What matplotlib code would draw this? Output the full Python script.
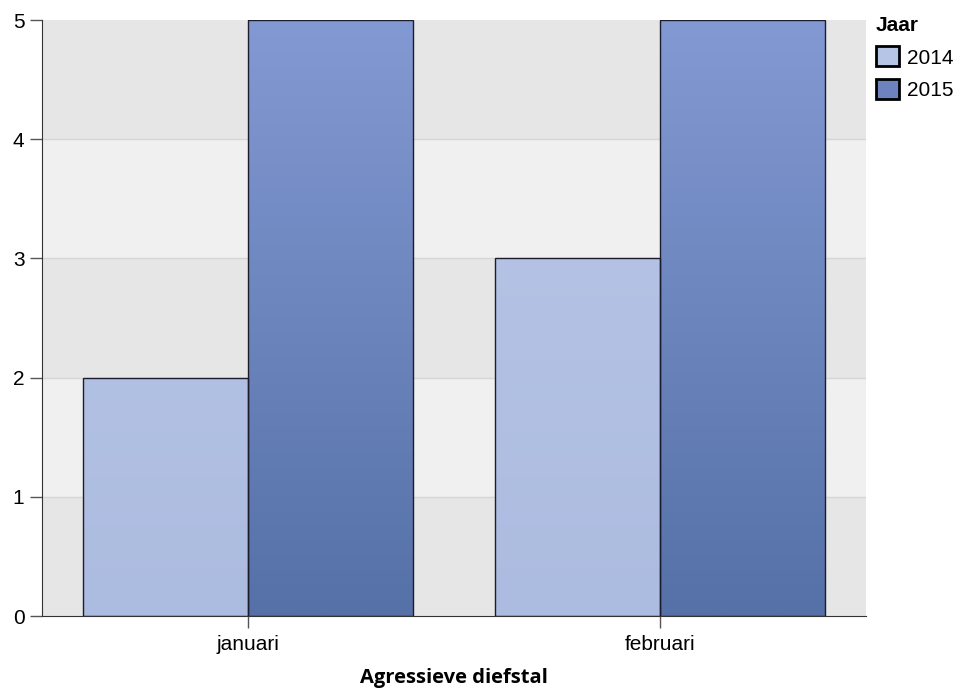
import numpy as np
import matplotlib.pyplot as plt
from matplotlib.patches import Patch
from matplotlib.colors import LinearSegmentedColormap

maanden = ['januari', 'februari']
jaren = ['2014', '2015']
waarden = {'2014': [2, 3], '2015': [5, 5]}
kleur_top = {'2014': '#b9c7e7', '2015': '#8399d3'}
kleur_bodem = {'2014': '#acbce0', '2015': '#5571a7'}
legenda_kleur = {'2014': '#b6c4e5', '2015': '#6c83bf'}

plt.rcParams['font.family'] = ['Liberation Sans', 'DejaVu Sans']

fig = plt.figure(figsize=(9.64, 6.88), dpi=100)
ax = fig.add_axes([42 / 964, 1 - 616 / 688, 824 / 964, 596 / 688])

# achtergrondbanden
for i in range(5):
    ax.axhspan(i, i + 1, color='#e6e6e6' if i % 2 == 0 else '#f0f0f0', zorder=0, lw=0)
for i in range(1, 5):
    ax.axhline(i, color='#d6d6d6', lw=1, zorder=0.5)

x = np.arange(len(maanden))
w = 0.4
ymax = 5
for j, jaar in enumerate(jaren):
    pos = x + (j - 0.5) * w
    bars = ax.bar(pos, waarden[jaar], width=w, align='center', facecolor='none',
                  edgecolor='#1c1c2c', lw=1, zorder=3)
    cmap = LinearSegmentedColormap.from_list(jaar, [kleur_bodem[jaar], kleur_top[jaar]])
    grad = np.linspace(0, 1, 256).reshape(-1, 1)
    for b in bars:
        im = ax.imshow(grad, cmap=cmap, origin='lower', aspect='auto',
                       extent=[b.get_x(), b.get_x() + b.get_width(), 0, ymax],
                       zorder=2, vmin=0, vmax=1)
        im.set_clip_path(b)

ax.set_xlim(-0.5, 1.5)
ax.set_ylim(0, ymax)
ax.set_xticks(x)
ax.set_xticklabels(maanden, fontsize=15)
ax.set_yticks(range(0, 6))
ax.tick_params(axis='y', length=8.6, width=1, color='#555555', labelsize=15, pad=4)
ax.tick_params(axis='x', length=8.6, width=1, color='#555555', labelsize=15, pad=5)
for s in ['top', 'right']:
    ax.spines[s].set_visible(False)
ax.spines['left'].set_color('#333333')
ax.spines['bottom'].set_color('#333333')
ax.set_xlabel('Agressieve diefstal', fontsize=14.5, fontweight='bold',
              family=['Open Sans', 'DejaVu Sans'], labelpad=10)

handles = [Patch(facecolor=legenda_kleur[j], edgecolor='black', lw=2, label=j) for j in jaren]
leg = fig.legend(handles=handles, title='Jaar', loc='upper left', bbox_to_anchor=(876 / 964, 1 - 16 / 688),
                 frameon=False, fontsize=15, title_fontsize=15, handlelength=1.1, handleheight=1.1,
                 handletextpad=0.4, labelspacing=0.55, borderaxespad=0, borderpad=0)
leg.get_title().set_fontweight('bold')
leg._legend_box.align = 'left'

fig.savefig('out.png', dpi=100)
